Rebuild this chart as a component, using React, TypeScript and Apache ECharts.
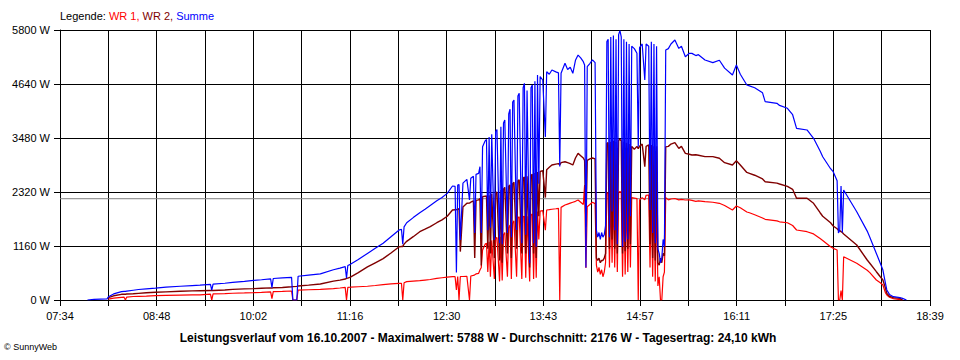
import React, { useEffect, useRef } from 'react';
import * as echarts from 'echarts';

// ---- data ----
const times = [
  '07:55','08:00','08:05','08:10','08:11','08:15','08:21','08:23','08:24','08:25','08:30','08:34','08:40','08:47','08:55',
  '09:06','09:15','09:21','09:29','09:30','09:31','09:40','09:46','09:55','10:02','10:08','10:15','10:16','10:17','10:24',
  '10:31','10:32','10:35','10:36','10:44','10:53','11:03','11:08','11:12','11:13','11:14','11:16','11:22','11:29','11:35',
  '11:41','11:47','11:53','11:55','11:56','11:57','11:59','12:04','12:09','12:13','12:17','12:22','12:26','12:30','12:34',
  '12:36','12:37','12:38','12:39','12:40','12:42','12:45','12:47','12:48','12:50','12:51','12:52','12:54','12:55','12:56',
  '12:57','12:59','13:00','13:01','13:02','13:03','13:04','13:06','13:07','13:08','13:10','13:11','13:12','13:13','13:14',
  '13:16','13:17','13:18','13:19','13:20','13:21','13:23','13:24','13:25','13:27','13:28','13:29','13:30','13:31','13:33',
  '13:34','13:35','13:36','13:37','13:38','13:39','13:40','13:41','13:43','13:45','13:46','13:48','13:50','13:53','13:55',
  '13:56','13:57','14:00','14:02','14:04','14:06','14:08','14:10','14:12','14:14','14:15','14:16','14:17','14:19','14:21',
  '14:23','14:24','14:25','14:26','14:27','14:28','14:29','14:30','14:31','14:32','14:33','14:34','14:35','14:36','14:37',
  '14:38','14:39','14:40','14:41','14:42','14:43','14:44','14:45','14:46','14:47','14:48','14:49','14:50','14:51','14:53',
  '14:55','14:56','14:57','14:59','15:01','15:02','15:04','15:05','15:06','15:07','15:08','15:09','15:10','15:11','15:12',
  '15:13','15:14','15:15','15:16','15:17','15:19','15:21','15:24','15:27','15:29','15:32','15:35','15:37','15:40','15:42',
  '15:47','15:53','15:58','16:02','16:08','16:11','16:14','16:19','16:21','16:25','16:31','16:33','16:42','16:44','16:50',
  '16:54','16:57','17:05','17:10','17:15','17:17','17:23','17:25','17:28','17:29','17:30','17:31','17:32','17:33','17:43',
  '17:51','17:53','17:58','18:01','18:03','18:05','18:06','18:08','18:11','18:16','18:18','18:21'
];

const wr1 = [
  null,null,null,null,20,40,58,60,0,62,75,80,85,92,98,
  105,108,110,125,0,130,138,145,152,158,165,175,30,178,185,
  193,0,0,210,220,230,245,258,270,0,272,275,285,295,312,
  330,345,358,360,0,370,394,405,415,428,440,466,478,490,501,
  500,215,505,0,505,505,510,0,515,530,540,560,573,644,700,
  1074,1200,1217,600,1250,500,1280,450,1330,1340,400,1360,420,1400,1450,
  500,1550,1611,450,1650,1700,500,1760,1790,450,1790,1800,480,1800,400,
  1820,1850,450,1880,480,1900,1300,1910,1920,1500,1933,1940,1950,1960,1969,
  0,1990,2040,2060,2080,2100,2120,2148,2100,2050,2470,690,2004,2050,2100,
  2070,750,600,700,550,650,500,600,800,2292,2300,700,2280,800,2300,
  700,2290,600,2300,2330,2300,500,2280,550,2250,600,2230,700,2200,2190,
  2180,0,2150,2200,2150,2250,2255,700,2250,500,2200,400,2200,300,500,
  0,0,500,600,2200,2150,2170,2180,2150,2160,2148,2150,2140,2120,2130,
  2112,2100,2077,2030,1933,2019,1980,1890,1875,1830,1760,1733,1700,1680,1660,
  1600,1504,1467,1420,1320,1280,1145,1110,1074,0,0,200,0,930,788,
  640,587,430,370,322,150,107,60,30,10,0,null
];

const wr2 = [
  null,null,null,null,50,90,122,125,125,128,135,143,155,165,175,
  187,195,200,205,205,205,215,228,238,245,252,260,255,262,270,
  285,288,292,300,320,344,405,428,450,466,470,490,590,710,800,
  890,1010,1140,1150,1150,1200,1260,1360,1467,1520,1575,1660,1720,1800,1933,
  1940,1940,1950,1960,1040,2000,2077,2080,2100,2130,900,2140,2150,2180,740,
  2220,2230,2234,1100,2250,1000,2280,900,2300,2320,850,2360,800,2380,2420,
  1000,2450,2470,900,2500,2530,1100,2560,2580,1000,2620,2640,1000,2660,700,
  2680,2700,1000,2730,900,2750,1800,2760,2780,2200,2800,2850,2900,2920,2930,
  2900,2950,2970,2950,2930,2900,3050,3150,3100,3050,3000,1575,3000,3030,3050,
  3030,900,850,900,800,850,850,900,1000,3365,3380,1100,3400,1300,3420,
  1100,3400,1000,3430,3450,3420,1000,3400,1050,3380,1100,3350,1200,3300,3240,
  3300,3250,3300,3350,2864,3300,3330,1200,3330,900,3300,850,3300,800,750,
  900,800,1000,950,3290,3300,3350,3380,3258,3300,3150,3130,3115,3120,3110,
  3080,3080,3044,2950,2900,2992,2900,2740,2721,2680,2600,2541,2510,2492,2440,
  2378,2185,2185,2077,1875,1800,1660,1590,1530,1500,1490,1470,1450,1418,1181,
  859,790,608,500,430,250,143,80,50,36,0,null
];

const summe = [
  0,15,20,25,70,130,180,185,185,190,210,225,240,255,275,
  295,310,320,335,210,340,360,380,400,420,435,455,265,462,475,
  487,0,0,510,535,560,650,685,716,472,740,766,870,1000,1110,
  1220,1360,1500,1520,1200,1570,1660,1770,1875,1950,2030,2130,2200,2290,2449,
  2440,590,2470,2480,1290,2510,2590,2150,2614,2660,1440,2700,2720,2864,1440,
  3293,3420,3450,1500,3500,1550,3560,1290,3620,3660,1220,3720,1200,3800,3866,
  1440,4000,4100,1350,4250,4296,1504,4380,4440,1217,4560,4654,1400,4500,790,
  4560,4618,1217,4700,1145,4833,2500,4800,4726,3500,4904,4850,4940,4900,4880,
  2870,4869,5084,4950,5000,4869,5150,5262,5200,5119,5050,700,5012,5080,5160,
  5100,1500,1350,1450,1300,1450,1350,1400,1600,5550,5600,1350,5650,1900,5680,
  1500,5600,1200,5700,5788,5650,1145,5600,1250,5550,1300,5500,1800,5450,5400,
  5300,3290,5420,5500,4726,5500,5450,1933,5550,1440,5500,1217,5450,1100,1000,
  800,900,1300,1150,5370,5400,5500,5585,5405,5450,5226,5300,5298,5250,5270,
  5155,5100,5150,4980,4833,5047,4850,4618,4600,4560,4450,4260,4225,4180,4118,
  3980,3688,3652,3473,3200,3078,2820,2756,2560,1440,1500,2450,1450,2363,1897,
  1480,1350,1000,788,644,350,215,120,72,50,36,0
];

const xTickLabels = ['07:34','08:48','10:02','11:16','12:30','13:43','14:57','16:11','17:25','18:39'];
const startTime = '07:34';
const endTime = '18:39';
const gridSteps = 18;
const yMax = 5800;
const yInterval = 1160;
const averageWatts = 2176;

const titleText = 'Leistungsverlauf vom 16.10.2007 - Maximalwert: 5788 W - Durchschnitt: 2176 W - Tagesertrag: 24,10 kWh';

const toMin = (t: string) => {
  const [h, m] = t.split(':').map(Number);
  return h * 60 + m;
};

export default function App() {
  const ref = useRef<HTMLDivElement>(null);

  useEffect(() => {
    if (!ref.current) return;
    const chart = echarts.init(ref.current, undefined, { renderer: 'svg' });
    const t0 = toMin(startTime);
    const span = toMin(endTime) - t0;
    const build = (vals: (number | null)[]) =>
      times
        .map((t, i) => [toMin(t) - t0, vals[i]])
        .filter((p) => p[1] !== null);

    const font = 'Liberation Sans, Arial, sans-serif';

    chart.setOption({
      animation: false,
      backgroundColor: '#ffffff',
      grid: { left: 60, right: 30, top: 30, bottom: 60 },
      xAxis: {
        type: 'value',
        min: 0,
        max: span,
        interval: span / gridSteps,
        axisLine: { show: true, lineStyle: { color: '#000', width: 1 } },
        axisTick: { show: true, length: 6, lineStyle: { color: '#000', width: 1 } },
        axisLabel: {
          color: '#000',
          fontSize: 11,
          fontFamily: font,
          margin: 10,
          showMinLabel: true,
          showMaxLabel: true,
          formatter: (_v: number, i: number) => (i % 2 === 0 ? xTickLabels[i / 2] ?? '' : ''),
        },
        splitLine: { show: true, lineStyle: { color: '#000', width: 1 } },
      },
      yAxis: {
        type: 'value',
        min: 0,
        max: yMax,
        interval: yInterval,
        axisLine: { show: true, lineStyle: { color: '#000', width: 1 } },
        axisTick: { show: true, length: 6, lineStyle: { color: '#000', width: 1 } },
        axisLabel: {
          color: '#000',
          fontSize: 11,
          fontFamily: font,
          margin: 10,
          formatter: (v: number) => `${v} W`,
        },
        splitLine: { show: true, lineStyle: { color: '#000', width: 1 } },
      },
      series: [
        {
          name: 'Durchschnitt',
          type: 'line',
          silent: true,
          showSymbol: false,
          data: [[0, averageWatts], [span, averageWatts]],
          lineStyle: { color: '#808080', width: 1 },
          itemStyle: { color: '#808080' },
        },
        {
          name: 'WR 1',
          type: 'line',
          showSymbol: false,
          data: build(wr1),
          lineStyle: { color: '#ff0000', width: 1.2 },
          itemStyle: { color: '#ff0000' },
        },
        {
          name: 'WR 2',
          type: 'line',
          showSymbol: false,
          data: build(wr2),
          lineStyle: { color: '#800000', width: 1.4 },
          itemStyle: { color: '#800000' },
        },
        {
          name: 'Summe',
          type: 'line',
          showSymbol: false,
          data: build(summe),
          lineStyle: { color: '#0000ff', width: 1.2 },
          itemStyle: { color: '#0000ff' },
        },
      ],
      graphic: [
        {
          type: 'text',
          left: 60,
          top: 10,
          style: {
            text: '{k|Legende: }{a|WR 1, }{b|WR 2, }{c|Summe}',
            font: `11px ${font}`,
            rich: {
              k: { fill: '#000', fontSize: 11, fontFamily: font },
              a: { fill: '#ff0000', fontSize: 11, fontFamily: font },
              b: { fill: '#800000', fontSize: 11, fontFamily: font },
              c: { fill: '#0000ff', fontSize: 11, fontFamily: font },
            },
          },
        },
        {
          type: 'text',
          x: 478,
          y: 338,
          style: {
            text: titleText,
            fill: '#000',
            font: `bold 12px ${font}`,
            textAlign: 'center',
            textVerticalAlign: 'middle',
          },
        },
        {
          type: 'text',
          x: 4,
          y: 347,
          style: {
            text: '© SunnyWeb',
            fill: '#000',
            font: `9px ${font}`,
            textAlign: 'left',
            textVerticalAlign: 'middle',
          },
        },
      ],
    });

    return () => chart.dispose();
  }, []);

  return (
    <div
      ref={ref}
      style={{ position: 'absolute', left: 0, top: 0, width: 960, height: 360, background: '#fff' }}
    />
  );
}
